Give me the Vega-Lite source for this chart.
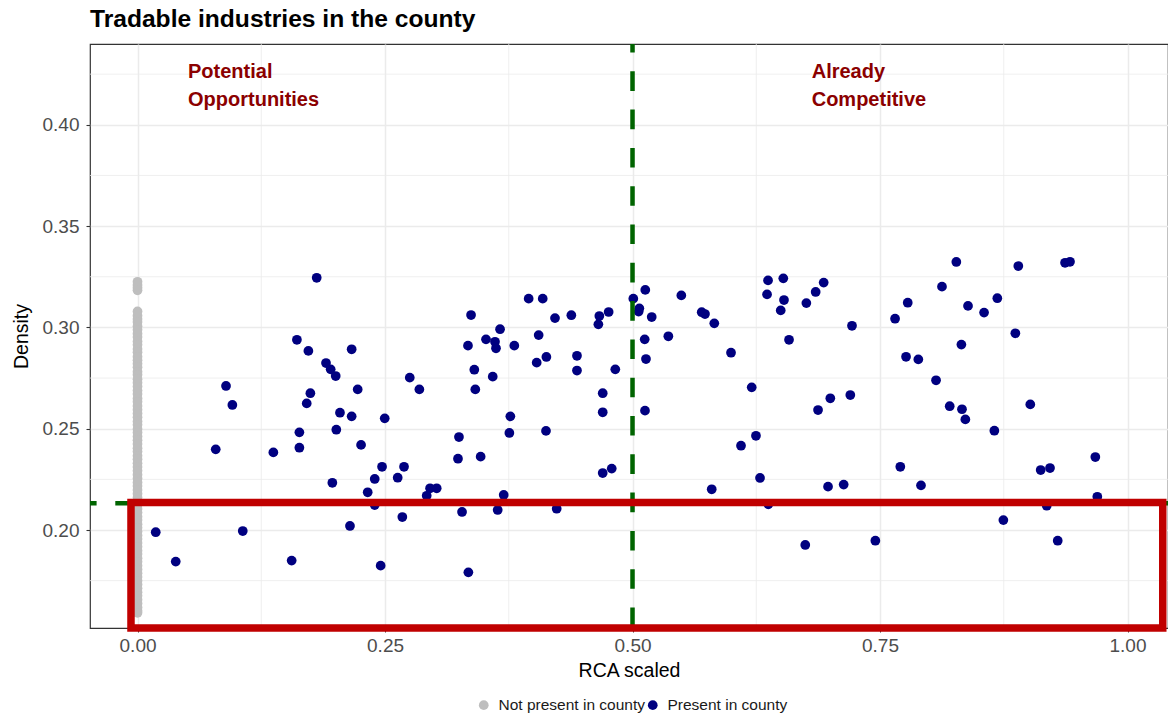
{
  "$schema": "https://vega.github.io/schema/vega-lite/v6.json",
  "width": 1078,
  "height": 584,
  "autosize": {"type": "none"},
  "padding": {"left": 90, "top": 44, "right": 0, "bottom": 86},
  "background": "white",
  "title": {"text": "Tradable industries in the county", "anchor": "start", "frame": "group", "font": "Liberation Sans", "fontSize": 24.6, "fontWeight": "bold", "color": "#000000", "offset": 15, "baseline": "alphabetic", "dy": 25},
  "config": {
    "view": {"stroke": "#333333", "strokeWidth": 1.2},
    "axis": {"domain": false, "grid": true, "gridColor": "#EBEBEB", "gridWidth": 1.5, "tickColor": "#333333", "tickSize": 4, "tickWidth": 1.1, "labelFont": "Liberation Sans", "labelFontSize": 19, "labelColor": "#4D4D4D", "titleFont": "Liberation Sans", "titleFontSize": 19.5, "titleFontWeight": "normal", "titleColor": "#000000"},
    "axisX": {"labelPadding": 4, "titlePadding": 6},
    "axisY": {"labelPadding": 7, "titlePadding": 11},
    "legend": {"labelFont": "Liberation Sans", "labelFontSize": 15.5, "labelColor": "#1A1A1A"}
  },
  "datasets": {
    "pts": [
      {"x": 0, "y": 0.3225, "status": "Not present in county"},
      {"x": 0, "y": 0.3209, "status": "Not present in county"},
      {"x": 0, "y": 0.3196, "status": "Not present in county"},
      {"x": 0, "y": 0.3183, "status": "Not present in county"},
      {"x": 0, "y": 0.3079, "status": "Not present in county"},
      {"x": 0, "y": 0.3058, "status": "Not present in county"},
      {"x": 0, "y": 0.3041, "status": "Not present in county"},
      {"x": 0, "y": 0.3027, "status": "Not present in county"},
      {"x": 0, "y": 0.3006, "status": "Not present in county"},
      {"x": 0, "y": 0.2988, "status": "Not present in county"},
      {"x": 0, "y": 0.2969, "status": "Not present in county"},
      {"x": 0, "y": 0.2952, "status": "Not present in county"},
      {"x": 0, "y": 0.2931, "status": "Not present in county"},
      {"x": 0, "y": 0.2914, "status": "Not present in county"},
      {"x": 0, "y": 0.2893, "status": "Not present in county"},
      {"x": 0, "y": 0.2877, "status": "Not present in county"},
      {"x": 0, "y": 0.2855, "status": "Not present in county"},
      {"x": 0, "y": 0.2838, "status": "Not present in county"},
      {"x": 0, "y": 0.2821, "status": "Not present in county"},
      {"x": 0, "y": 0.2803, "status": "Not present in county"},
      {"x": 0, "y": 0.2781, "status": "Not present in county"},
      {"x": 0, "y": 0.2766, "status": "Not present in county"},
      {"x": 0, "y": 0.2744, "status": "Not present in county"},
      {"x": 0, "y": 0.2727, "status": "Not present in county"},
      {"x": 0, "y": 0.2708, "status": "Not present in county"},
      {"x": 0, "y": 0.2688, "status": "Not present in county"},
      {"x": 0, "y": 0.2671, "status": "Not present in county"},
      {"x": 0, "y": 0.2649, "status": "Not present in county"},
      {"x": 0, "y": 0.2633, "status": "Not present in county"},
      {"x": 0, "y": 0.2612, "status": "Not present in county"},
      {"x": 0, "y": 0.2594, "status": "Not present in county"},
      {"x": 0, "y": 0.2575, "status": "Not present in county"},
      {"x": 0, "y": 0.2557, "status": "Not present in county"},
      {"x": 0, "y": 0.2536, "status": "Not present in county"},
      {"x": 0, "y": 0.2519, "status": "Not present in county"},
      {"x": 0, "y": 0.2498, "status": "Not present in county"},
      {"x": 0, "y": 0.2481, "status": "Not present in county"},
      {"x": 0, "y": 0.2462, "status": "Not present in county"},
      {"x": 0, "y": 0.2443, "status": "Not present in county"},
      {"x": 0, "y": 0.2425, "status": "Not present in county"},
      {"x": 0, "y": 0.2404, "status": "Not present in county"},
      {"x": 0, "y": 0.2387, "status": "Not present in county"},
      {"x": 0, "y": 0.2366, "status": "Not present in county"},
      {"x": 0, "y": 0.2349, "status": "Not present in county"},
      {"x": 0, "y": 0.2329, "status": "Not present in county"},
      {"x": 0, "y": 0.2311, "status": "Not present in county"},
      {"x": 0, "y": 0.2292, "status": "Not present in county"},
      {"x": 0, "y": 0.2273, "status": "Not present in county"},
      {"x": 0, "y": 0.2254, "status": "Not present in county"},
      {"x": 0, "y": 0.2235, "status": "Not present in county"},
      {"x": 0, "y": 0.2217, "status": "Not present in county"},
      {"x": 0, "y": 0.2198, "status": "Not present in county"},
      {"x": 0, "y": 0.2179, "status": "Not present in county"},
      {"x": 0, "y": 0.2161, "status": "Not present in county"},
      {"x": 0, "y": 0.2142, "status": "Not present in county"},
      {"x": 0, "y": 0.2123, "status": "Not present in county"},
      {"x": 0, "y": 0.2104, "status": "Not present in county"},
      {"x": 0, "y": 0.2086, "status": "Not present in county"},
      {"x": 0, "y": 0.2066, "status": "Not present in county"},
      {"x": 0, "y": 0.2049, "status": "Not present in county"},
      {"x": 0, "y": 0.2029, "status": "Not present in county"},
      {"x": 0, "y": 0.2011, "status": "Not present in county"},
      {"x": 0, "y": 0.1992, "status": "Not present in county"},
      {"x": 0, "y": 0.1973, "status": "Not present in county"},
      {"x": 0, "y": 0.1955, "status": "Not present in county"},
      {"x": 0, "y": 0.1936, "status": "Not present in county"},
      {"x": 0, "y": 0.1917, "status": "Not present in county"},
      {"x": 0, "y": 0.1898, "status": "Not present in county"},
      {"x": 0, "y": 0.1881, "status": "Not present in county"},
      {"x": 0, "y": 0.1861, "status": "Not present in county"},
      {"x": 0, "y": 0.1843, "status": "Not present in county"},
      {"x": 0, "y": 0.1824, "status": "Not present in county"},
      {"x": 0, "y": 0.1805, "status": "Not present in county"},
      {"x": 0, "y": 0.1787, "status": "Not present in county"},
      {"x": 0, "y": 0.1768, "status": "Not present in county"},
      {"x": 0, "y": 0.1749, "status": "Not present in county"},
      {"x": 0, "y": 0.1731, "status": "Not present in county"},
      {"x": 0, "y": 0.1712, "status": "Not present in county"},
      {"x": 0, "y": 0.1693, "status": "Not present in county"},
      {"x": 0, "y": 0.1675, "status": "Not present in county"},
      {"x": 0, "y": 0.1656, "status": "Not present in county"},
      {"x": 0, "y": 0.1637, "status": "Not present in county"},
      {"x": 0, "y": 0.1618, "status": "Not present in county"},
      {"x": 0, "y": 0.1602, "status": "Not present in county"},
      {"x": 0, "y": 0.1591, "status": "Not present in county"},
      {"x": 0.181, "y": 0.3245, "status": "Present in county"},
      {"x": 0.161, "y": 0.2939, "status": "Present in county"},
      {"x": 0.1726, "y": 0.2884, "status": "Present in county"},
      {"x": 0.2163, "y": 0.2892, "status": "Present in county"},
      {"x": 0.1904, "y": 0.2824, "status": "Present in county"},
      {"x": 0.1951, "y": 0.2793, "status": "Present in county"},
      {"x": 0.2002, "y": 0.276, "status": "Present in county"},
      {"x": 0.275, "y": 0.2752, "status": "Present in county"},
      {"x": 0.2847, "y": 0.2694, "status": "Present in county"},
      {"x": 0.2224, "y": 0.2694, "status": "Present in county"},
      {"x": 0.0894, "y": 0.2711, "status": "Present in county"},
      {"x": 0.0958, "y": 0.2617, "status": "Present in county"},
      {"x": 0.1746, "y": 0.2675, "status": "Present in county"},
      {"x": 0.1709, "y": 0.2625, "status": "Present in county"},
      {"x": 0.2045, "y": 0.2579, "status": "Present in county"},
      {"x": 0.2163, "y": 0.2561, "status": "Present in county"},
      {"x": 0.2497, "y": 0.2551, "status": "Present in county"},
      {"x": 0.1635, "y": 0.2482, "status": "Present in county"},
      {"x": 0.2008, "y": 0.2495, "status": "Present in county"},
      {"x": 0.1635, "y": 0.2406, "status": "Present in county"},
      {"x": 0.2258, "y": 0.242, "status": "Present in county"},
      {"x": 0.079, "y": 0.2398, "status": "Present in county"},
      {"x": 0.1372, "y": 0.2383, "status": "Present in county"},
      {"x": 0.247, "y": 0.2312, "status": "Present in county"},
      {"x": 0.2692, "y": 0.2312, "status": "Present in county"},
      {"x": 0.2396, "y": 0.2252, "status": "Present in county"},
      {"x": 0.2628, "y": 0.2258, "status": "Present in county"},
      {"x": 0.1968, "y": 0.2233, "status": "Present in county"},
      {"x": 0.2325, "y": 0.2186, "status": "Present in county"},
      {"x": 0.2396, "y": 0.2123, "status": "Present in county"},
      {"x": 0.2921, "y": 0.2169, "status": "Present in county"},
      {"x": 0.2955, "y": 0.2206, "status": "Present in county"},
      {"x": 0.3022, "y": 0.2206, "status": "Present in county"},
      {"x": 0.2675, "y": 0.2064, "status": "Present in county"},
      {"x": 0.2146, "y": 0.202, "status": "Present in county"},
      {"x": 0.0184, "y": 0.1989, "status": "Present in county"},
      {"x": 0.1063, "y": 0.1995, "status": "Present in county"},
      {"x": 0.0386, "y": 0.1844, "status": "Present in county"},
      {"x": 0.1557, "y": 0.1849, "status": "Present in county"},
      {"x": 0.2456, "y": 0.1824, "status": "Present in county"},
      {"x": 0.3369, "y": 0.3061, "status": "Present in county"},
      {"x": 0.3338, "y": 0.291, "status": "Present in county"},
      {"x": 0.3402, "y": 0.2791, "status": "Present in county"},
      {"x": 0.3412, "y": 0.2694, "status": "Present in county"},
      {"x": 0.3588, "y": 0.2757, "status": "Present in county"},
      {"x": 0.352, "y": 0.2941, "status": "Present in county"},
      {"x": 0.3611, "y": 0.2929, "status": "Present in county"},
      {"x": 0.3621, "y": 0.2897, "status": "Present in county"},
      {"x": 0.3662, "y": 0.2991, "status": "Present in county"},
      {"x": 0.3806, "y": 0.291, "status": "Present in county"},
      {"x": 0.3247, "y": 0.2459, "status": "Present in county"},
      {"x": 0.3237, "y": 0.2352, "status": "Present in county"},
      {"x": 0.3466, "y": 0.2362, "status": "Present in county"},
      {"x": 0.3766, "y": 0.2561, "status": "Present in county"},
      {"x": 0.3756, "y": 0.2479, "status": "Present in county"},
      {"x": 0.3699, "y": 0.2173, "status": "Present in county"},
      {"x": 0.3278, "y": 0.2089, "status": "Present in county"},
      {"x": 0.3638, "y": 0.2099, "status": "Present in county"},
      {"x": 0.3342, "y": 0.1791, "status": "Present in county"},
      {"x": 0.3951, "y": 0.3142, "status": "Present in county"},
      {"x": 0.4093, "y": 0.3142, "status": "Present in county"},
      {"x": 0.4052, "y": 0.2962, "status": "Present in county"},
      {"x": 0.4217, "y": 0.3046, "status": "Present in county"},
      {"x": 0.4382, "y": 0.306, "status": "Present in county"},
      {"x": 0.413, "y": 0.2854, "status": "Present in county"},
      {"x": 0.4032, "y": 0.2826, "status": "Present in county"},
      {"x": 0.4126, "y": 0.2489, "status": "Present in county"},
      {"x": 0.4234, "y": 0.2105, "status": "Present in county"},
      {"x": 0.4439, "y": 0.286, "status": "Present in county"},
      {"x": 0.4439, "y": 0.2787, "status": "Present in county"},
      {"x": 0.4655, "y": 0.3015, "status": "Present in county"},
      {"x": 0.4665, "y": 0.3056, "status": "Present in county"},
      {"x": 0.4759, "y": 0.3076, "status": "Present in county"},
      {"x": 0.4826, "y": 0.2793, "status": "Present in county"},
      {"x": 0.4699, "y": 0.2675, "status": "Present in county"},
      {"x": 0.4699, "y": 0.2581, "status": "Present in county"},
      {"x": 0.4699, "y": 0.2281, "status": "Present in county"},
      {"x": 0.479, "y": 0.2303, "status": "Present in county"},
      {"x": 0.5008, "y": 0.3142, "status": "Present in county"},
      {"x": 0.5129, "y": 0.3185, "status": "Present in county"},
      {"x": 0.5069, "y": 0.3094, "status": "Present in county"},
      {"x": 0.5062, "y": 0.3078, "status": "Present in county"},
      {"x": 0.5194, "y": 0.3051, "status": "Present in county"},
      {"x": 0.5123, "y": 0.2941, "status": "Present in county"},
      {"x": 0.5136, "y": 0.2844, "status": "Present in county"},
      {"x": 0.5126, "y": 0.2589, "status": "Present in county"},
      {"x": 0.5362, "y": 0.2956, "status": "Present in county"},
      {"x": 0.5493, "y": 0.3158, "status": "Present in county"},
      {"x": 0.5699, "y": 0.3075, "status": "Present in county"},
      {"x": 0.5732, "y": 0.3066, "status": "Present in county"},
      {"x": 0.5826, "y": 0.302, "status": "Present in county"},
      {"x": 0.5995, "y": 0.2875, "status": "Present in county"},
      {"x": 0.6204, "y": 0.2704, "status": "Present in county"},
      {"x": 0.6247, "y": 0.2465, "status": "Present in county"},
      {"x": 0.6096, "y": 0.2416, "status": "Present in county"},
      {"x": 0.6288, "y": 0.2257, "status": "Present in county"},
      {"x": 0.58, "y": 0.2201, "status": "Present in county"},
      {"x": 0.6372, "y": 0.2127, "status": "Present in county"},
      {"x": 0.6369, "y": 0.3232, "status": "Present in county"},
      {"x": 0.6359, "y": 0.3163, "status": "Present in county"},
      {"x": 0.6523, "y": 0.3242, "status": "Present in county"},
      {"x": 0.653, "y": 0.3135, "status": "Present in county"},
      {"x": 0.6497, "y": 0.3084, "status": "Present in county"},
      {"x": 0.6581, "y": 0.2939, "status": "Present in county"},
      {"x": 0.6756, "y": 0.312, "status": "Present in county"},
      {"x": 0.685, "y": 0.3175, "status": "Present in county"},
      {"x": 0.6931, "y": 0.3221, "status": "Present in county"},
      {"x": 0.7217, "y": 0.3008, "status": "Present in county"},
      {"x": 0.6874, "y": 0.2592, "status": "Present in county"},
      {"x": 0.6998, "y": 0.265, "status": "Present in county"},
      {"x": 0.72, "y": 0.2666, "status": "Present in county"},
      {"x": 0.6975, "y": 0.2214, "status": "Present in county"},
      {"x": 0.7133, "y": 0.2224, "status": "Present in county"},
      {"x": 0.6745, "y": 0.1926, "status": "Present in county"},
      {"x": 0.7453, "y": 0.1947, "status": "Present in county"},
      {"x": 0.7652, "y": 0.3043, "status": "Present in county"},
      {"x": 0.778, "y": 0.3122, "status": "Present in county"},
      {"x": 0.7763, "y": 0.2855, "status": "Present in county"},
      {"x": 0.7887, "y": 0.2842, "status": "Present in county"},
      {"x": 0.7705, "y": 0.2312, "status": "Present in county"},
      {"x": 0.7914, "y": 0.222, "status": "Present in county"},
      {"x": 0.8066, "y": 0.2739, "status": "Present in county"},
      {"x": 0.8126, "y": 0.3201, "status": "Present in county"},
      {"x": 0.8271, "y": 0.3323, "status": "Present in county"},
      {"x": 0.8389, "y": 0.3106, "status": "Present in county"},
      {"x": 0.8322, "y": 0.2915, "status": "Present in county"},
      {"x": 0.8204, "y": 0.2611, "status": "Present in county"},
      {"x": 0.8328, "y": 0.2596, "status": "Present in county"},
      {"x": 0.8362, "y": 0.2546, "status": "Present in county"},
      {"x": 0.8551, "y": 0.3073, "status": "Present in county"},
      {"x": 0.8685, "y": 0.3144, "status": "Present in county"},
      {"x": 0.8655, "y": 0.249, "status": "Present in county"},
      {"x": 0.8867, "y": 0.2971, "status": "Present in county"},
      {"x": 0.8897, "y": 0.3303, "status": "Present in county"},
      {"x": 0.9018, "y": 0.262, "status": "Present in county"},
      {"x": 0.8746, "y": 0.2049, "status": "Present in county"},
      {"x": 0.9123, "y": 0.2296, "status": "Present in county"},
      {"x": 0.9217, "y": 0.2306, "status": "Present in county"},
      {"x": 0.9184, "y": 0.212, "status": "Present in county"},
      {"x": 0.9295, "y": 0.1947, "status": "Present in county"},
      {"x": 0.9369, "y": 0.3319, "status": "Present in county"},
      {"x": 0.9419, "y": 0.3324, "status": "Present in county"},
      {"x": 0.9675, "y": 0.236, "status": "Present in county"},
      {"x": 0.9695, "y": 0.2164, "status": "Present in county"}
    ],
    "minorX": [{"x": 0.125}, {"x": 0.375}, {"x": 0.625}, {"x": 0.875}],
    "minorY": [{"y": 0.175}, {"y": 0.225}, {"y": 0.275}, {"y": 0.325}, {"y": 0.375}, {"y": 0.425}],
    "vline": [{"x": 0.5}],
    "hline": [{"y": 0.2132}],
    "box": [{"x": -0.0066, "x2": 1.0356, "y": 0.15163, "y2": 0.2136}],
    "notes": [
      {"x": 0.051, "y": 0.423, "label": "Potential\nOpportunities"},
      {"x": 0.681, "y": 0.423, "label": "Already\nCompetitive"}
    ]
  },
  "layer": [
    {
      "data": {"name": "minorX"},
      "mark": {"type": "rule", "color": "#EBEBEB", "strokeWidth": 0.8},
      "encoding": {
        "x": {"field": "x", "type": "quantitative", "scale": {"domain": [-0.048, 1.0409], "nice": false, "zero": false}}
      }
    },
    {
      "data": {"name": "minorY"},
      "mark": {"type": "rule", "color": "#EBEBEB", "strokeWidth": 0.8},
      "encoding": {
        "y": {"field": "y", "type": "quantitative", "scale": {"domain": [0.15163, 0.43988], "nice": false, "zero": false}}
      }
    },
    {
      "data": {"name": "pts"},
      "mark": {"type": "circle", "size": 95, "opacity": 1},
      "encoding": {
        "x": {"field": "x", "type": "quantitative", "scale": {"domain": [-0.048, 1.0409], "nice": false, "zero": false}, "axis": {"values": [0, 0.25, 0.5, 0.75, 1], "format": ".2f", "title": "RCA scaled"}},
        "y": {"field": "y", "type": "quantitative", "scale": {"domain": [0.15163, 0.43988], "nice": false, "zero": false}, "axis": {"values": [0.2, 0.25, 0.3, 0.35, 0.4], "format": ".2f", "title": "Density"}},
        "color": {"field": "status", "type": "nominal", "scale": {"domain": ["Not present in county", "Present in county"], "range": ["#BEBEBE", "#000080"]}, "legend": {"title": null, "orient": "none", "direction": "horizontal", "legendX": 386, "legendY": 653, "symbolType": "circle", "symbolSize": 95, "symbolStrokeWidth": 0, "labelOffset": 7, "columnPadding": -9, "padding": 0}}
      }
    },
    {
      "data": {"name": "vline"},
      "mark": {"type": "rule", "color": "#006400", "strokeWidth": 4.5, "strokeDash": [19.6, 18.7], "strokeDashOffset": 11},
      "encoding": {
        "x": {"field": "x", "type": "quantitative", "scale": {"domain": [-0.048, 1.0409], "nice": false, "zero": false}}
      }
    },
    {
      "data": {"name": "hline"},
      "mark": {"type": "rule", "color": "#006400", "strokeWidth": 4.5, "strokeDash": [19.6, 18.7], "strokeDashOffset": 1},
      "encoding": {
        "y": {"field": "y", "type": "quantitative", "scale": {"domain": [0.15163, 0.43988], "nice": false, "zero": false}}
      }
    },
    {
      "data": {"name": "box"},
      "mark": {"type": "rect", "fill": "transparent", "stroke": "#C00000", "strokeWidth": 7.5},
      "encoding": {
        "x": {"field": "x", "type": "quantitative", "scale": {"domain": [-0.048, 1.0409], "nice": false, "zero": false}},
        "x2": {"field": "x2"},
        "y": {"field": "y", "type": "quantitative", "scale": {"domain": [0.15163, 0.43988], "nice": false, "zero": false}},
        "y2": {"field": "y2"}
      }
    },
    {
      "data": {"name": "notes"},
      "mark": {"type": "text", "align": "left", "baseline": "alphabetic", "lineBreak": "\n", "lineHeight": 28, "font": "Liberation Sans", "fontSize": 20, "fontWeight": "bold", "color": "#8B0000"},
      "encoding": {
        "x": {"field": "x", "type": "quantitative", "scale": {"domain": [-0.048, 1.0409], "nice": false, "zero": false}},
        "y": {"field": "y", "type": "quantitative", "scale": {"domain": [0.15163, 0.43988], "nice": false, "zero": false}},
        "text": {"field": "label"}
      }
    }
  ]
}
